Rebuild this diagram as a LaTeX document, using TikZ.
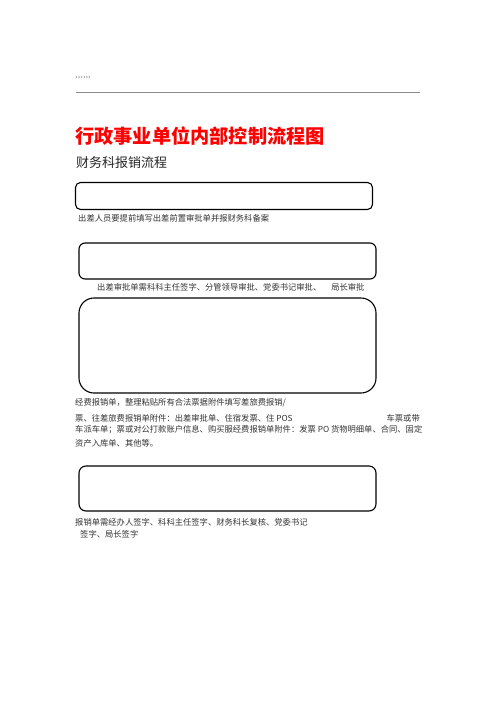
\documentclass[tikz,border=0pt]{standalone}
\usepackage{fontspec}
\setmainfont{Liberation Serif}
\newfontfamily\cjk{Noto Sans CJK SC}
\newfontfamily\dejavu{DejaVu Sans}
\begin{document}
\begin{tikzpicture}[x=1pt,y=-1pt,
  fbox/.style={draw=black,line width=1.1pt,inner sep=0pt},
  lbl/.style={font=\cjk\fontsize{8.3}{10}\selectfont,text=black!80,inner sep=0pt,anchor=west}]
\useasboundingbox (0,0) rectangle (496,702);
\node[anchor=west,inner sep=0pt,text=black!55,font=\dejavu\fontsize{6.5}{7}\selectfont] (hdr) at (75,78) {››››››};
\draw[black!45,line width=0.8pt] (76,92) -- (420,92);
\node[anchor=west,inner sep=0pt,text=red,font=\cjk\bfseries\fontsize{19.2}{22}\selectfont] (title) at (75,136) {行政事业单位内部控制流程图};
\node[anchor=west,inner sep=0pt,text=black!85,font=\cjk\fontsize{13}{15}\selectfont] (sub) at (76,163) {财务科报销流程};
% box 1
\node[fbox,rounded corners=5pt,minimum width=297pt,minimum height=27pt] (b1) at (224,196) {};
\node[lbl] (l1) at (78,218) {出差人员要提前填写出差前置审批单并报财务科备案};
% box 2
\node[fbox,rounded corners=6pt,minimum width=297pt,minimum height=36pt] (b2) at (227.5,261) {};
\node[lbl] (l2) at (97,287) {出差审批单需科科主任签字、分管领导审批、党委书记审批、\hspace{10pt}局长审批};
% box 3
\node[fbox,rounded corners=15pt,minimum width=297pt,minimum height=95pt] (b3) at (227.5,345.5) {};
\node[lbl] (t1) at (75,403) {经费报销单，整理粘贴所有合法票据附件填写差旅费报销/};
\node[lbl] (t2) at (75,418) {票、往差旅费报销单附件：出差审批单、住宿发票、住 POS};
\node[lbl,anchor=east] (t2b) at (420,418) {车票或带};
\node[lbl] (t3) at (75,430) {车派车单；票或对公打款账户信息、购买服经费报销单附件：发票 PO 货物明细单、合同、固定};
\node[lbl] (t4) at (75,443) {资产入库单、其他等。};
% box 4
\node[fbox,rounded corners=7pt,minimum width=297pt,minimum height=45pt] (b4) at (227.5,488.5) {};
\node[lbl] (l4a) at (75,522) {报销单需经办人签字、科科主任签字、财务科长复核、党委书记};
\node[lbl] (l4b) at (80,534) {签字、局长签字};
\end{tikzpicture}
\end{document}
